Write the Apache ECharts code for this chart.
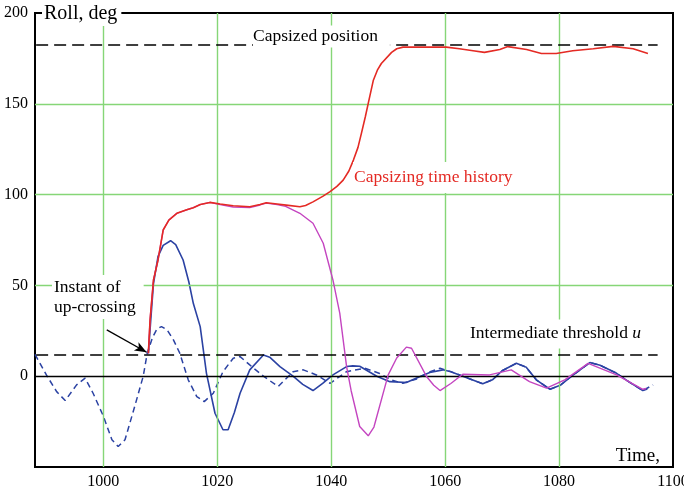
<!DOCTYPE html>
<html><head><meta charset="utf-8">
<script src="https://cdn.jsdelivr.net/npm/echarts@6/dist/echarts.min.js"></script>
<style>html,body{margin:0;padding:0;background:#fff}#c{width:684px;height:491px}</style>
</head><body><div id="c"></div>
<script>
// ---- data (time, roll deg) ----
const xTickValues = [1000, 1020, 1040, 1060, 1080, 1100];
const xGridValues = [1000, 1020, 1040, 1060, 1080];
const yGridValues = [50, 100, 150];
const thresholdU = 12;
const capsizedPosition = 182.5;

const rollDashed = [
  [988,12],[990,0.7],[991.8,-8.5],[993.3,-13.4],[995.3,-4.8],[996.8,-1.1],[998.2,-9.4],
  [1000,-22],[1001.5,-35],[1002.6,-38.7],[1003.8,-35],[1005.5,-16.7],[1007,0],[1007.7,12.6],
  [1008.6,21],[1009.4,26],[1010.2,27.3],[1011.2,25.5],[1012.3,20],[1013.4,12.8],[1014.9,-2],
  [1016.4,-11.2],[1017.7,-14],[1019.3,-9.4],[1021,2.5],[1022.8,9.9],[1024,10.8],[1025.7,6.2],
  [1028.1,0],[1030.7,-5.7],[1033.3,2.5],[1035.1,3.5],[1037.4,0.7],[1039.8,-3.9],[1042.7,2.5],
  [1045.9,4.4],[1048.5,1.5],[1050.5,-2],[1052.6,-3.9],[1055,-1.5],[1057,2],[1059.1,4.4],
  [1061,2.5],[1063.1,0],[1066.6,-4.2],[1068.3,-2],[1070,3],[1072.5,7.1],[1074.2,5],[1076,-2],
  [1078.4,-7.2],[1080.2,-5],[1082.2,0],[1085.4,7.5],[1087.2,6],[1090.1,1.6],[1092.2,-3],
  [1094.7,-7.9],[1096.5,-4.8]
];
const rollSolidBlue = [
  [1007.9,12.6],[1008.3,30],[1008.8,51],[1009.6,66],[1010.5,72],[1011.8,74.6],[1012.7,72.5],
  [1014,64],[1015,52],[1015.8,40],[1017,27.3],[1018.1,1.6],[1019.6,-20.4],[1021,-29.5],
  [1021.9,-29.5],[1023,-20],[1024,-9.4],[1025.7,3.5],[1028.1,11.7],[1029.2,10.5],[1031,5.3],
  [1033.3,0],[1035,-4.5],[1036.8,-7.9],[1038.5,-4],[1040.3,0.7],[1042.7,5.3],[1043.8,5.7],
  [1045,5.5],[1048,0],[1050.3,-3],[1053.2,-3.5],[1055,-1],[1057.3,2],[1059.6,3.5],[1061,2.5],
  [1063.1,0],[1066.6,-4.2],[1068.3,-2],[1070,3],[1072.5,7.1],[1074.2,5],[1076,-2],[1078.4,-7.2],
  [1080.2,-5],[1082.2,0],[1085.4,7.5],[1087.2,6],[1090.1,1.6],[1092.2,-3],[1094.7,-7.9],
  [1095.5,-7]
];
const rollCapsizing = [
  [1007.9,12.6],[1008.2,31],[1008.8,53],[1009.6,64],[1010.5,80.5],[1011.5,86],[1012.9,89.7],
  [1014.5,91.5],[1015.8,92.8],[1017,94.5],[1018.7,95.7],[1020.5,94.8],[1022.8,93.9],
  [1025.7,93.3],[1027.5,94.5],[1028.6,95.5],[1030.5,94.8],[1032.1,94.2],[1034.5,93.3],
  [1035.5,94],[1036.8,96],[1038.5,99],[1039.8,101.6],[1041,104.5],[1042.1,108],[1043.1,113],
  [1043.9,119],[1044.7,126],[1045.3,133.7],[1046,143],[1046.5,150.2],[1047.4,163],
  [1048.1,168.5],[1048.8,172.2],[1050.6,178.3],[1051.5,180.3],[1052.6,181.2],[1056,181.2],
  [1060.2,181.2],[1062.5,180.3],[1064.9,179.2],[1066.9,178.3],[1069.6,179.9],[1071,181.5],
  [1074.3,179.9],[1076.9,177.7],[1079.5,177.7],[1082.4,179.2],[1086,180.3],[1089.5,181.6],
  [1093,180.3],[1095.6,177.7]
];
const rollRecovering = [
  [1007.9,12.6],[1008.2,31],[1008.8,53],[1009.6,64],[1010.5,80.5],[1011.5,86],[1012.9,89.7],
  [1014.5,91.5],[1015.8,92.8],[1017,94.5],[1018.7,95.7],[1020.5,94.5],[1022.8,93.2],
  [1025.7,92.8],[1027.5,94.3],[1028.6,95.3],[1030.5,94.5],[1032,93.5],[1034.5,89.7],
  [1036.8,84.2],[1038.6,73.2],[1040.3,53],[1041.5,34.7],[1042.7,5.3],[1043.5,-8],[1045,-27.7],
  [1046.5,-32.8],[1047.5,-28],[1050,0.7],[1051.5,10],[1053.2,16],[1054.1,15.4],[1056.7,0],
  [1058,-5],[1059.1,-7.9],[1061,-4],[1063.1,1.1],[1067.8,0.7],[1071.6,3.5],[1074.8,-3],
  [1077.8,-6.6],[1081,-2],[1085.1,7.1],[1090.1,0.7],[1094.7,-7.2],[1095.3,-6.8]
];
const arrowFrom = [1000.6, 25.5];
const arrowTo = [1007.6, 13.2];

const FONT = 'Liberation Serif';
const GREEN = '#86d677';
const chart = echarts.init(document.getElementById('c'), null, {renderer:'canvas'});

const option = {
  animation: false,
  backgroundColor: '#fff',
  grid: {left:35, right:11, top:13, bottom:24, containLabel:false, outerBoundsMode:'none',
         show:true, borderColor:'#000', borderWidth:2, backgroundColor:'#fff'},
  xAxis: {
    type:'value', min:988, max:1100,
    axisLine:{show:false}, axisTick:{show:false}, splitLine:{show:false},
    axisLabel:{customValues:xTickValues, color:'#000', fontFamily:FONT, fontSize:16, margin:7,
               showMaxLabel:true, showMinLabel:true, formatter:v => String(v)}
  },
  yAxis: {
    type:'value', min:-50, max:200, interval:50,
    axisLine:{show:false}, axisTick:{show:false}, splitLine:{show:false},
    axisLabel:{color:'#000', fontFamily:FONT, fontSize:16, margin:7, formatter:v => v < 0 ? '' : String(v)}
  },
  series: [
    {
      type:'line', data:[], z:1, silent:true,
      markLine:{
        silent:true, symbol:'none', animation:false, label:{show:false},
        lineStyle:{color:GREEN, width:1.4, type:'solid'},
        data:[...xGridValues.map(x => ({xAxis:x})), ...yGridValues.map(y => ({yAxis:y}))]
      }
    },
    {
      type:'line', data:[], z:2, silent:true,
      markLine:{
        silent:true, symbol:'none', animation:false, label:{show:false},
        lineStyle:{color:'#000', width:1.3, type:'solid'},
        data:[ {yAxis:0} ]
      }
    },
    {type:'line', data:rollDashed, z:3, showSymbol:false, smooth:false,
      lineStyle:{color:'#2b42a3', width:1.5, type:[6,4]}},
    {type:'line', data:rollSolidBlue, z:4, showSymbol:false,
      lineStyle:{color:'#2b42a3', width:1.6}},
    {type:'line', data:rollRecovering, z:5, showSymbol:false,
      lineStyle:{color:'#c445c0', width:1.4}},
    {type:'line', data:rollCapsizing, z:6, showSymbol:false,
      lineStyle:{color:'#e42a24', width:1.6}},
    {
      type:'line', data:[], z:7, silent:true,
      markLine:{
        silent:true, symbol:'none', animation:false, label:{show:false},
        lineStyle:{color:'#000', width:1.6, type:[12,6]},
        data:[
          [{coord:[988.2, thresholdU]}, {coord:[1097.3, thresholdU]}],
          [{coord:[988.2, capsizedPosition]}, {coord:[1097.3, capsizedPosition]}],
          [{coord:arrowFrom, symbol:'none', lineStyle:{width:1.3, type:'solid'}}, {coord:arrowTo, symbol:'arrow', symbolSize:[7,12]}]
        ]
      }
    }
  ],
  graphic: [
    {type:'text', x:42, y:14, z:100, style:{text:'Roll, deg', font:'20px ' + FONT, fill:'#000', verticalAlign:'middle', backgroundColor:'#fff', padding:[2,4,2,2]}},
    {type:'text', x:253, y:36.5, z:100, style:{text:'Capsized position', font:'17.5px ' + FONT, fill:'#000', verticalAlign:'middle', backgroundColor:'#fff', padding:[2,12,2,0]}},
    {type:'text', x:353, y:177.5, z:100, style:{text:'Capsizing time history', font:'17.5px ' + FONT, fill:'#e42a24', verticalAlign:'middle', backgroundColor:'#fff', padding:[6,34,7,1]}},
    {type:'text', x:52, y:297, z:100, style:{text:'Instant of\nup-crossing', font:'17.5px ' + FONT, fill:'#000', verticalAlign:'middle', lineHeight:20, backgroundColor:'#fff', padding:[2,8,2,2]}},
    {type:'text', x:468, y:334, z:100, style:{text:'Intermediate threshold {i|u}', font:'17.5px ' + FONT, fill:'#000', verticalAlign:'middle', backgroundColor:'#fff', padding:[5,4,6,2], rich:{i:{fontStyle:'italic', fontSize:17.5, fontFamily:FONT}}}},
    {type:'text', x:660, y:456, z:100, style:{text:'Time,', font:'19px ' + FONT, fill:'#000', align:'right', verticalAlign:'middle'}}
  ]
};
chart.setOption(option);
</script>
</body></html>
